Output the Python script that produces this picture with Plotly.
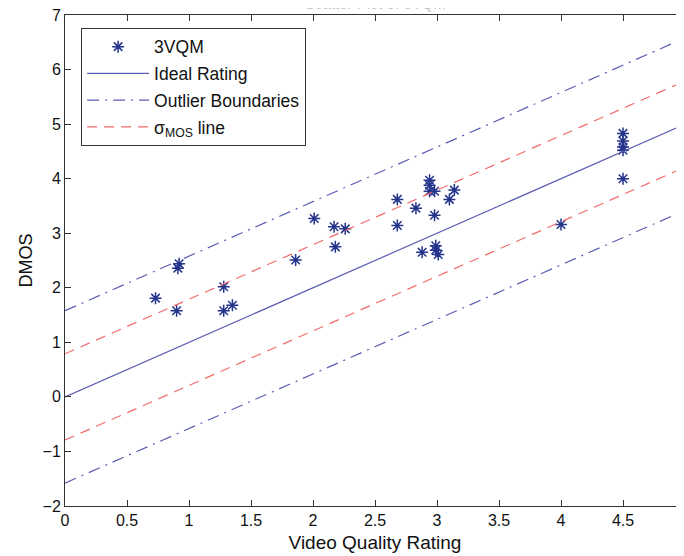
import plotly.graph_objects as go

# Data
vqr = [0.73, 0.90, 0.91, 0.92, 1.28, 1.28, 1.35, 1.86, 2.01, 2.17, 2.26, 2.18,
       2.68, 2.68, 2.83, 2.94, 2.94, 2.94, 2.98, 2.98, 3.10, 3.14,
       2.88, 2.99, 2.99, 3.01, 4.00, 4.50, 4.50, 4.50, 4.50, 4.50]
dmos = [1.81, 1.58, 2.36, 2.44, 2.02, 1.58, 1.68, 2.51, 3.27, 3.12, 3.08, 2.75,
        3.62, 3.14, 3.46, 3.97, 3.88, 3.77, 3.77, 3.33, 3.62, 3.79,
        2.65, 2.77, 2.69, 2.61, 3.16, 4.83, 4.69, 4.58, 4.52, 4.00]
line_x = [0, 5]
sigma_mos = 0.79
outlier_offset = 1.58
x_ticks = [0, 0.5, 1, 1.5, 2, 2.5, 3, 3.5, 4, 4.5, 5]
y_ticks = [-2, -1, 0, 1, 2, 3, 4, 5, 6, 7]

blue_line = "#5C5CB4"
red_line = "#F26B6B"
marker_col = "#24338C"
FONT = "Liberation Sans, Arial"

fig = go.Figure()
fig.add_trace(go.Scatter(x=vqr, y=dmos, mode="markers", name="3VQM", legendgroup="a",
                         marker=dict(symbol="asterisk-open", size=10, color=marker_col,
                                     line=dict(color=marker_col, width=1.5))))
fig.add_trace(go.Scatter(x=line_x, y=[v for v in line_x], mode="lines", legendgroup="b",
                         name="Ideal Rating", line=dict(color=blue_line, width=1.2)))
fig.add_trace(go.Scatter(x=line_x, y=[v + outlier_offset for v in line_x], mode="lines",
                         name="Outlier Boundaries", legendgroup="c",
                         line=dict(color=blue_line, width=1.2, dash="12px,6px,2px,6px")))
fig.add_trace(go.Scatter(x=line_x, y=[v + sigma_mos for v in line_x], mode="lines",
                         name="σ<sub>MOS</sub> line", legendgroup="d",
                         line=dict(color=red_line, width=1.2, dash="10px,7px")))
fig.add_trace(go.Scatter(x=line_x, y=[v - sigma_mos for v in line_x], mode="lines",
                         showlegend=False, legendgroup="d",
                         line=dict(color=red_line, width=1.2, dash="10px,7px")))
fig.add_trace(go.Scatter(x=line_x, y=[v - outlier_offset for v in line_x], mode="lines",
                         showlegend=False, legendgroup="c",
                         line=dict(color=blue_line, width=1.2, dash="12px,6px,2px,6px")))

axis_common = dict(showline=True, linecolor="#333333", linewidth=1, mirror="ticks",
                   ticks="inside", ticklen=6, tickcolor="#333333", showgrid=False,
                   zeroline=False, automargin=False, ticklabeloverflow="allow",
                   tickfont=dict(family=FONT, size=16, color="#111111"))
fig.update_layout(
    width=684, height=556,
    margin=dict(l=57, r=7, t=7, b=58),
    plot_bgcolor="white", paper_bgcolor="white",
    showlegend=True,
    legend=dict(x=0.026, y=0.974, xanchor="left", yanchor="top",
                bordercolor="#333333", borderwidth=1, bgcolor="white",
                font=dict(family=FONT, size=17.5, color="#111111"),
                tracegroupgap=1, itemwidth=62),
    xaxis=dict(range=[0, 5], tickvals=x_ticks, ticktext=[f"{t:g}" for t in x_ticks],
               title=dict(text="Video Quality Rating", standoff=7,
                          font=dict(family=FONT, size=19, color="#111111")),
               **axis_common),
    yaxis=dict(range=[-2, 7], tickvals=y_ticks, ticktext=[f"{t:g}".replace("-", "−") for t in y_ticks],
               title=dict(text="DMOS", standoff=5,
                          font=dict(family=FONT, size=18, color="#111111")),
               **axis_common),
)
fig.add_annotation(text="Scatter Plot of 3VQM", xref="paper", yref="paper", x=0.5, y=1,
                   xanchor="center", yanchor="bottom", yshift=1, showarrow=False,
                   font=dict(family=FONT, size=15, color="#C8C8C8"))
fig.write_html("out.html")
